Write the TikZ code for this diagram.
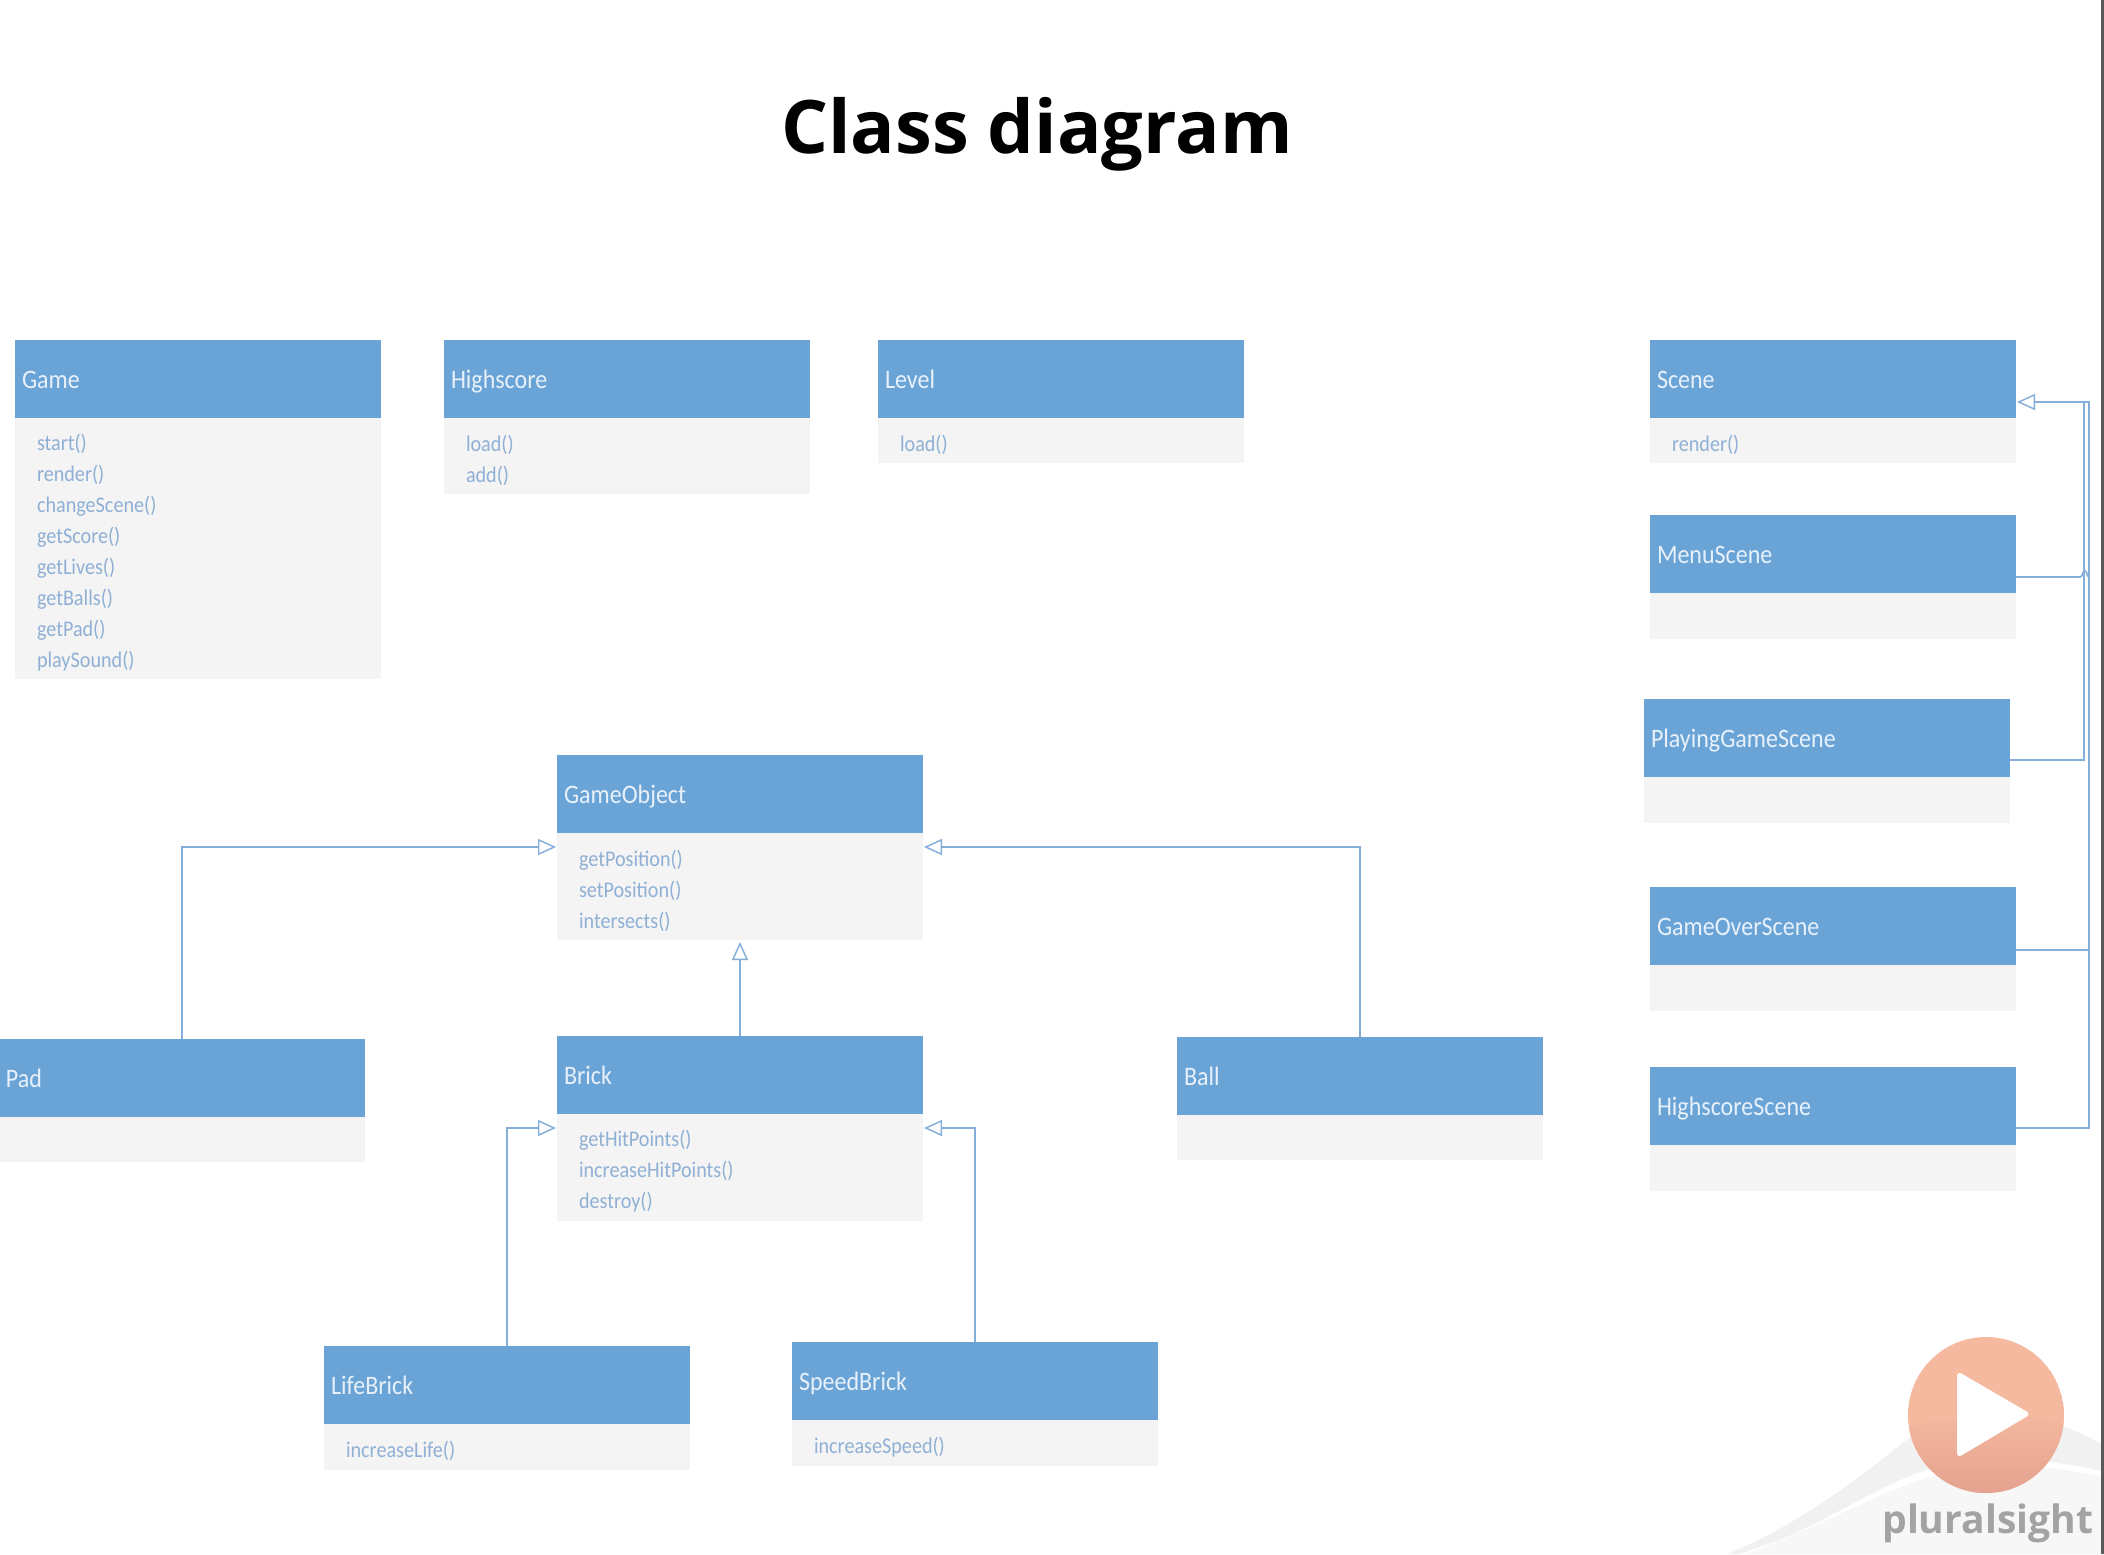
\documentclass[tikz,border=0pt]{standalone}
\usepackage{fontspec}
\setmainfont{Carlito}[FakeStretch=0.9]
\newfontfamily\titlefont{Open Sans}
\newfontfamily\logofont{Open Sans}
\usetikzlibrary{arrows.meta,calc}
\definecolor{hdrblue}{HTML}{6AA4D7}
\definecolor{bodygrey}{HTML}{F4F4F5}
\definecolor{mtext}{HTML}{8FB0D4}
\definecolor{htext}{HTML}{E8F1FA}
\definecolor{wire}{HTML}{85AFD8}
\definecolor{logoA}{HTML}{F5B9A0}
\definecolor{logoB}{HTML}{E4A28F}
\tikzset{
  hdr/.style={rectangle,fill=hdrblue,text=htext,anchor=north west,inner ysep=0pt,inner xsep=5.25pt,outer sep=0pt,
    text width=264pt,minimum height=58.5pt,align=left,text height=16.5pt,text depth=3pt,
    font=\fontsize{20}{23}\selectfont},
  body/.style={rectangle,fill=bodygrey,anchor=north west,inner sep=0pt,outer sep=0pt,minimum width=274.5pt},
  methods/.style={rectangle,text=mtext,inner ysep=0pt,inner xsep=16.5pt,outer sep=0pt,
    text width=241.5pt,align=left,font=\fontsize{16.8}{23.25}\selectfont},
  gen/.style={draw=wire,line width=1.3pt,-{Triangle[open,length=13.5pt,width=12pt,line width=1.1pt]}},
  wireline/.style={draw=wire,line width=1.3pt}
}
\newcommand{\classbox}[6]{%
  \node[hdr] (#1) at (#3,#4) {#2};
  \node[body,minimum height=#5*0.75pt] (#1b) at (#1.south west) {};
  \node[methods] (#1m) at ($(#1b.center)+(0,4)$) {#6};
}
\begin{document}
\begin{tikzpicture}[x=0.75pt,y=-0.75pt]
\useasboundingbox (0,0) rectangle (2104,1554);
\fill[white] (0,0) rectangle (2104,1554);
% swoosh behind the logo
\fill[gray!11] (1727,1554) .. controls (1800,1525) and (1870,1470) .. (1925,1425)
   -- (2040,1420) .. controls (2065,1425) and (2085,1435) .. (2104,1445) -- (2104,1554) -- cycle;
\fill[white] (1780,1540) .. controls (1850,1510) and (1900,1470) .. (1960,1462)
   .. controls (2010,1458) and (2060,1460) .. (2104,1472) -- (2104,1554) -- (1740,1554) -- cycle;
\fill[gray!6] (1745,1554) .. controls (1830,1525) and (1890,1482) .. (1960,1470)
   .. controls (2010,1464) and (2060,1466) .. (2104,1478) -- (2104,1554) -- cycle;
\fill[black!65] (2101,0) rectangle (2104,1554);
% title
\node[font=\fontsize{55.4}{60}\titlefont\bfseries,text=black,inner sep=0pt] (title) at (1037,134) {Class diagram};
% classes
\classbox{game}{Game}{15}{340}{261}{start()\\render()\\changeScene()\\getScore()\\getLives()\\getBalls()\\getPad()\\playSound()}
\classbox{hiscore}{Highscore}{444}{340}{76}{load()\\add()}
\classbox{level}{Level}{878}{340}{45}{load()}
\classbox{scene}{Scene}{1650}{340}{45}{render()}
\classbox{menu}{MenuScene}{1650}{515}{46}{}
\classbox{playing}{PlayingGameScene}{1644}{699}{46}{}
\classbox{over}{GameOverScene}{1650}{887}{46}{}
\classbox{hisc}{HighscoreScene}{1650}{1067}{46}{}
\classbox{gobj}{GameObject}{557}{755}{107}{getPosition()\\setPosition()\\intersects()}
\classbox{pad}{Pad}{-1}{1039}{45}{}
\classbox{brick}{Brick}{557}{1036}{107}{getHitPoints()\\increaseHitPoints()\\destroy()}
\classbox{ball}{Ball}{1177}{1037}{45}{}
\classbox{life}{LifeBrick}{324}{1346}{46}{increaseLife()}
\classbox{speed}{SpeedBrick}{792}{1342}{46}{increaseSpeed()}
% connector ends
\coordinate (gol) at (556,847);
\coordinate (gor) at (924,847);
\coordinate (gob) at (740,942);
\coordinate (brl) at (556,1128);
\coordinate (brr) at (924,1128);
\draw[gen] (pad.north) |- (gol);
\draw[gen] (ball.north) |- (gor);
\draw[gen] (brick.north -| gob) -- (gob);
\draw[gen] (life.north) |- (brl);
\draw[gen] (speed.north) |- (brr);
% scene bus
\coordinate (sct) at (2017,402);
\coordinate (b1) at (2089,402);
\coordinate (b2) at (2084,402);
\coordinate (m0) at (2016,577);
\coordinate (m1) at (2080,577);
\coordinate (m2) at (2089,577);
\coordinate (p0) at (2010,760);
\coordinate (p1) at (2084,760);
\coordinate (o0) at (2016,950);
\coordinate (o1) at (2089,950);
\coordinate (h0) at (2016,1128);
\coordinate (h1) at (2089,1128);
\draw[gen] (h0) -- (h1) -- (b1) -- (sct);
\draw[wireline] (p0) -- (p1) -- (b2);
\draw[wireline] (o0) -- (o1);
\draw[wireline] (m0) -- (m1) .. controls (2083,577) and (2082,571) .. (2085,571) .. controls (2087,571) and (2087,577) .. (m2);
% logo
\begin{scope}
\clip (1986,1415) circle (78);
\fill[logoA] (1986,1415) circle (78);
\shade[top color=logoA,bottom color=logoB] (1900,1428) .. controls (1960,1418) and (2020,1408) .. (2070,1425) -- (2070,1493) -- (1900,1493) -- cycle;
\end{scope}
\fill[white,rounded corners=4pt] (1957,1371) -- (2031,1414) -- (1957,1458) -- cycle;
\node[font=\fontsize{29.3}{36}\logofont\bfseries,text=black!36,inner sep=0pt,anchor=base west] (brand) at (1882,1533) {pluralsight};
\end{tikzpicture}
\end{document}
